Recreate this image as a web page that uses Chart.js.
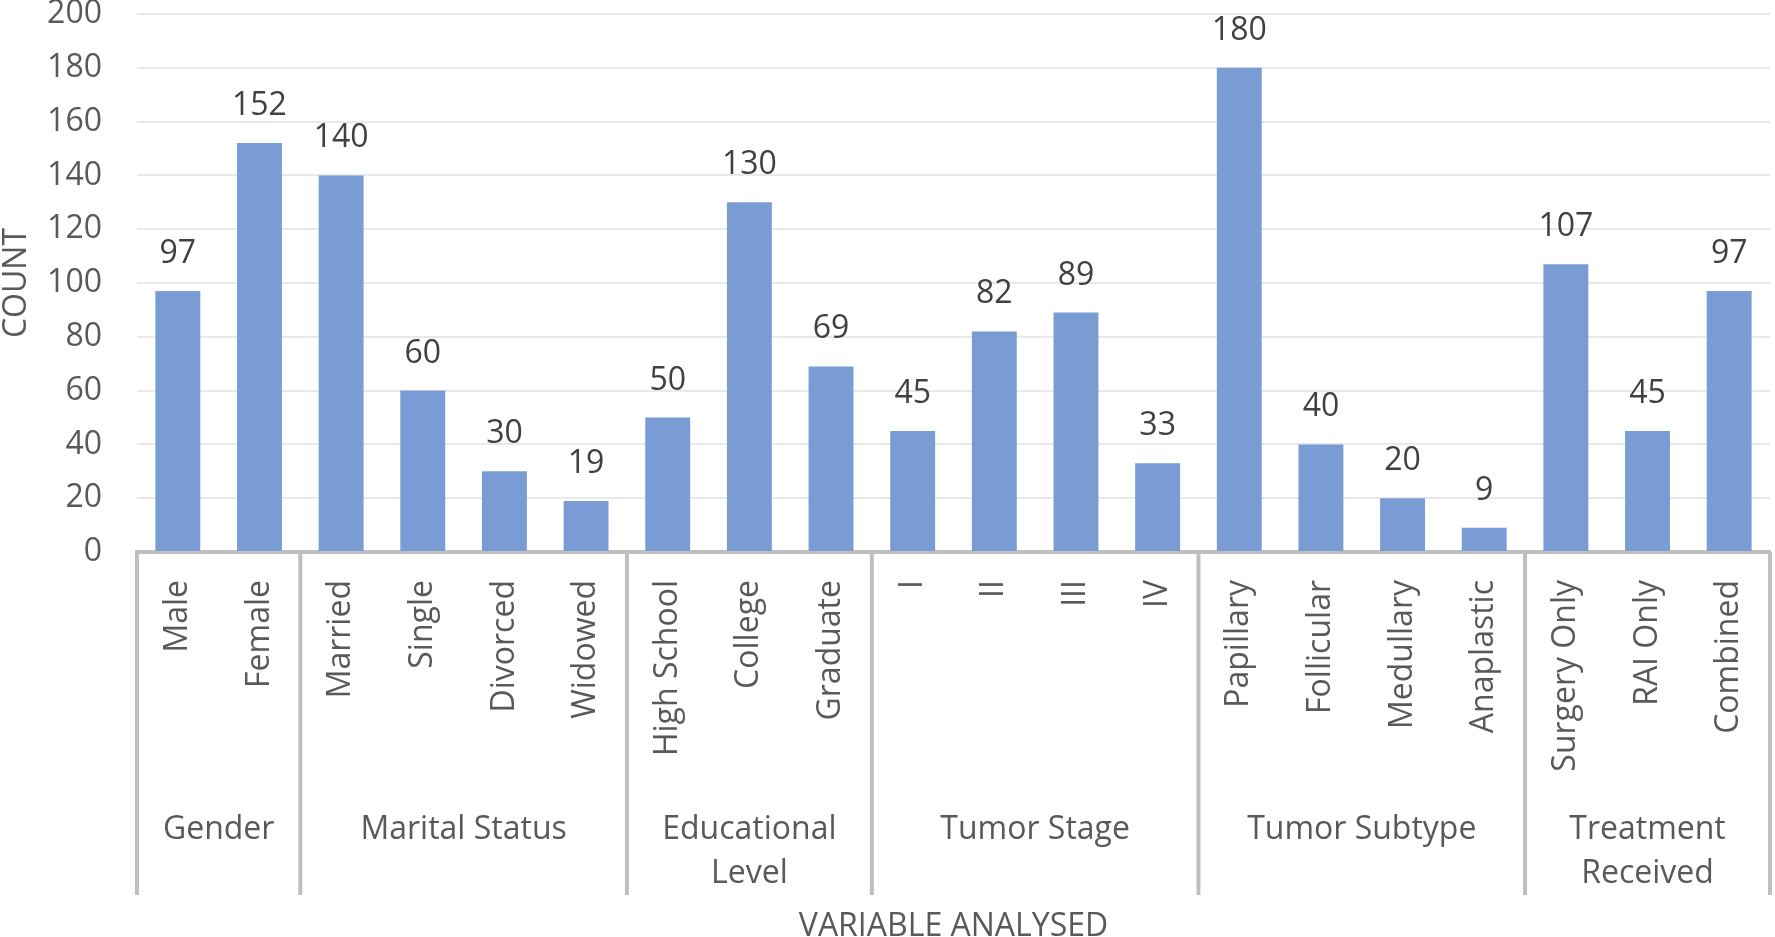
<!DOCTYPE html>
<html>
<head>
<meta charset="utf-8">
<script src="https://cdn.jsdelivr.net/npm/chart.js@4.4.1/dist/chart.umd.min.js"></script>
<style>
  html, body { margin: 0; padding: 0; background: #fff; }
  #wrap { width: 1775px; height: 937px; }
</style>
</head>
<body>
<div id="wrap"><canvas id="myChart"></canvas></div>
<script>
// categories and counts
var categories = ['Male', 'Female', 'Married', 'Single', 'Divorced', 'Widowed',
    'High School', 'College', 'Graduate', 'I', 'II', 'III', 'IV',
    'Papillary', 'Follicular', 'Medullary', 'Anaplastic',
    'Surgery Only', 'RAI Only', 'Combined'];
var counts = [97, 152, 140, 60, 30, 19, 50, 130, 69, 45, 82, 89, 33, 180, 40, 20, 9, 107, 45, 97];

// variable groups along the x axis
var groupNames = [['Gender'], ['Marital Status'], ['Educational', 'Level'],
    ['Tumor Stage'], ['Tumor Subtype'], ['Treatment', 'Received']];
var groupSizes = [2, 4, 3, 4, 4, 3];

var yTicks = [0, 20, 40, 60, 80, 100, 120, 140, 160, 180, 200];

var FONT = '"Open Sans"';
var axisGray = '#bfbfbf';
var textGray = '#595959';

// value labels above bars
var valueLabels = {
    id: 'valueLabels',
    afterDatasetsDraw: function(chart) {
        var ctx = chart.ctx;
        var meta = chart.getDatasetMeta(0);
        ctx.save();
        ctx.font = '32px ' + FONT;
        ctx.fillStyle = '#404040';
        ctx.textAlign = 'center';
        ctx.textBaseline = 'alphabetic';
        meta.data.forEach(function(bar, i) {
            ctx.fillText(String(counts[i]), bar.x, bar.y - 28);
        });
        ctx.restore();
    }
};

// group separators and group names under the tick labels
var groupAxis = {
    id: 'groupAxis',
    afterDraw: function(chart) {
        var ctx = chart.ctx;
        var x = chart.scales.x;
        var area = chart.chartArea;
        var half = (x.getPixelForValue(1) - x.getPixelForValue(0)) / 2;
        var lineEnd = area.bottom + 343;
        ctx.save();
        ctx.strokeStyle = axisGray;
        ctx.lineWidth = 4;
        var start = 0;
        var edges = [x.getPixelForValue(0) - half];
        groupSizes.forEach(function(n) {
            start += n;
            edges.push(x.getPixelForValue(start - 1) + half);
        });
        edges.forEach(function(px) {
            ctx.beginPath();
            ctx.moveTo(px, area.bottom);
            ctx.lineTo(px, lineEnd);
            ctx.stroke();
        });
        ctx.font = '32px ' + FONT;
        ctx.fillStyle = textGray;
        ctx.textAlign = 'center';
        ctx.textBaseline = 'alphabetic';
        groupNames.forEach(function(lines, g) {
            var cx = (edges[g] + edges[g + 1]) / 2;
            lines.forEach(function(t, k) {
                ctx.fillText(t, cx, area.bottom + 287 + k * 44);
            });
        });
        ctx.restore();
    }
};

var ctx = document.getElementById('myChart').getContext('2d');
var chart = new Chart(ctx, {
    type: 'bar',
    data: {
        labels: categories,
        datasets: [{
            label: 'Count',
            data: counts,
            backgroundColor: '#7a9cd4',
            borderWidth: 0,
            barPercentage: 0.55,
            categoryPercentage: 1.0
        }]
    },
    options: {
        responsive: true,
        maintainAspectRatio: false,
        animation: false,
        layout: { padding: { top: 14, right: 5, left: 0, bottom: 0 } },
        plugins: {
            legend: { display: false },
            tooltip: { enabled: false }
        },
        scales: {
            x: {
                grid: { display: false, drawTicks: false },
                border: { display: true, color: axisGray, width: 4 },
                ticks: {
                    autoSkip: false,
                    minRotation: 90,
                    maxRotation: 90,
                    padding: 28,
                    color: textGray,
                    font: { family: FONT, size: 32 }
                },
                title: {
                    display: true,
                    text: 'VARIABLE ANALYSED',
                    color: textGray,
                    font: { family: FONT, size: 32 },
                    padding: { top: 0, bottom: -9 }
                },
                afterFit: function(s) {
                    s.height = 385;
                    s.paddingLeft = 0;
                    s.paddingRight = 0;
                }
            },
            y: {
                min: 0,
                max: 200,
                afterBuildTicks: function(s) {
                    s.ticks = yTicks.map(function(v) { return { value: v }; });
                },
                grid: { color: '#e9e9e9', lineWidth: 2, drawTicks: false },
                border: { display: false },
                ticks: {
                    padding: 35,
                    color: textGray,
                    font: { family: FONT, size: 32 }
                },
                title: {
                    display: true,
                    text: 'COUNT',
                    color: textGray,
                    font: { family: FONT, size: 32 },
                    padding: { top: -2, bottom: 0 }
                },
                afterFit: function(s) {
                    s.width = 137;
                    s.paddingTop = 0;
                    s.paddingBottom = 0;
                }
            }
        }
    },
    plugins: [valueLabels, groupAxis]
});
</script>
</body>
</html>
